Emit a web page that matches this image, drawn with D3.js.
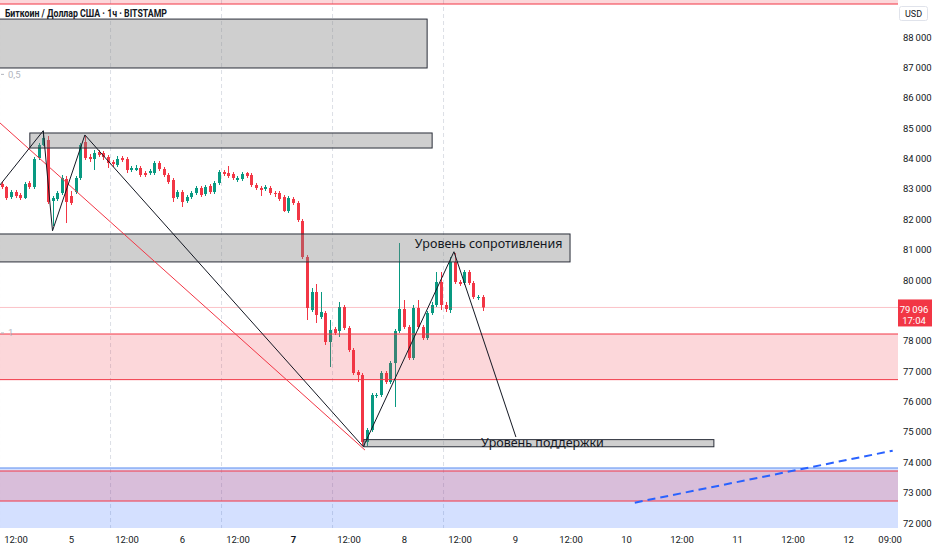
<!DOCTYPE html>
<html lang="ru">
<head>
<meta charset="UTF-8">
<title>BTC/USD 1h</title>
<script src="https://cdn.jsdelivr.net/npm/d3@7"></script>
<style>
  body { margin: 0; background: #fff; }
  svg { display: block; }
  text { font-family: "Liberation Sans Narrow", "Arial Narrow", Roboto, sans-serif; fill: #131722; }
  .axis text { font-size: 9.5px; }
  .axis path, .axis line { display: none; }
  .note { font-family: "Noto Sans", sans-serif; font-size: 12.5px; }
</style>
</head>
<body>
<svg id="chart" width="932" height="550"></svg>
<script>
// hourly candles [open, high, low, close], first bar 4 Apr 09:00 UTC
const barStart = Date.UTC(2025, 3, 4, 9);
const bars = [
  [83160, 83226, 82996, 83062], [83062, 83095, 82634, 82699], [82732, 82963, 82667, 82897],
  [82897, 82963, 82699, 82765], [82798, 82864, 82634, 82699], [82699, 83226, 82667, 83160],
  [83193, 83259, 82996, 83062], [83062, 84049, 82996, 83983], [84016, 84510, 83950, 84444],
  [84444, 84905, 84411, 84675], [84609, 84741, 82502, 82568], [82601, 82765, 81778, 82699],
  [82667, 82930, 82601, 82864], [82864, 83457, 82798, 83358], [83325, 83424, 81876, 82568],
  [82765, 82930, 82469, 82535], [82897, 83424, 82831, 83358], [83358, 84510, 83292, 84444],
  [84543, 84741, 83950, 84016], [84049, 84148, 83885, 83983], [83983, 84280, 83621, 84181],
  [84214, 84280, 84049, 84115], [84181, 84247, 83950, 84049], [84049, 84115, 83687, 83852],
  [83885, 83950, 83720, 83819], [83786, 84082, 83720, 83983], [84016, 84082, 83885, 83950],
  [83983, 84049, 83522, 83621], [83621, 83753, 83555, 83687], [83621, 83786, 83588, 83687],
  [83687, 83753, 83391, 83457], [83522, 83588, 83391, 83457], [83522, 83654, 83457, 83588],
  [83522, 83918, 83457, 83852], [83852, 83918, 83588, 83654], [83654, 83720, 83391, 83457],
  [83457, 83522, 83160, 83226], [83292, 83358, 82568, 82699], [82732, 82963, 82667, 82897],
  [82897, 82963, 82403, 82568], [82601, 82798, 82535, 82732], [82732, 82930, 82667, 82864],
  [82864, 83095, 82798, 83029], [83029, 83095, 82732, 82798], [82831, 83127, 82765, 83062],
  [83095, 83160, 82831, 82897], [82897, 83259, 82831, 83193], [83193, 83621, 83127, 83555],
  [83555, 83621, 83424, 83490], [83522, 83753, 83358, 83424], [83490, 83555, 83292, 83358],
  [83292, 83424, 83226, 83358], [83325, 83555, 83259, 83490], [83522, 83555, 83358, 83424],
  [83457, 83522, 83062, 83127], [83127, 83193, 82963, 83029], [83029, 83095, 82765, 82963],
  [82996, 83127, 82930, 83062], [83029, 83095, 82798, 82864], [82864, 82930, 82732, 82831],
  [82864, 82930, 82601, 82667], [82732, 82798, 82239, 82271], [82271, 82765, 82206, 82699],
  [82667, 82732, 82469, 82535], [82535, 82601, 81909, 81975], [81942, 82008, 80691, 80757],
  [80757, 80823, 78683, 79078], [79012, 79736, 78946, 79605], [79605, 79868, 78584, 78848],
  [78782, 79605, 78716, 78946], [78913, 78979, 77860, 77959], [77959, 78683, 77136, 78354],
  [78387, 78452, 78189, 78255], [78321, 79276, 78123, 79111], [79111, 79177, 78354, 78420],
  [78420, 78485, 77629, 77695], [77695, 77761, 76872, 76938], [76971, 77037, 76642, 76872],
  [76872, 76938, 74535, 74666], [74666, 75127, 74535, 75061], [75061, 76280, 74996, 76214],
  [76181, 76280, 76115, 76214], [76214, 77004, 76148, 76938], [76938, 77004, 76576, 76642],
  [76642, 77333, 76576, 77267], [77267, 78387, 75819, 78321], [78321, 81218, 78255, 79045],
  [79045, 79341, 78387, 78452], [78452, 78518, 77366, 77432], [77432, 79177, 77366, 79078],
  [79078, 79341, 78387, 78452], [78452, 78518, 78025, 78090], [78090, 78979, 78025, 78913],
  [78913, 79276, 78848, 79177], [79177, 80263, 79111, 79934], [79934, 80263, 79012, 79177],
  [79177, 79276, 78946, 79045], [79012, 80757, 78913, 80592], [80592, 80889, 79868, 79934],
  [79934, 80000, 79802, 79868], [79901, 80329, 79835, 80263], [80263, 80329, 79835, 79901],
  [79901, 79967, 79374, 79440], [79407, 79506, 79341, 79440], [79440, 79506, 78979, 79096]
];

// 79 000 sits under the live price tag, so it is not printed
const priceTicks = [72000, 73000, 74000, 75000, 76000, 77000, 78000,
                    80000, 81000, 82000, 83000, 84000, 85000, 86000, 87000, 88000];
const extraTimeTick = "2025-04-12T09:00Z";
const gridTimes = ["2025-04-04T08:33Z", "2025-04-05T08:33Z", "2025-04-06T08:33Z",
                   "2025-04-07T08:33Z", "2025-04-08T08:33Z"];

// drawn zones: [from, to, upper price, lower price]
const grayBoxes = [
  ["2025-04-04T00:00Z", "2025-04-08T05:00Z", 88590, 86980],
  ["2025-04-04T15:06Z", "2025-04-08T06:05Z", 84840, 84345],
  ["2025-04-04T00:00Z", "2025-04-09T11:54Z", 81515, 80595],
  ["2025-04-07T15:20Z", "2025-04-10T19:00Z", 74745, 74510]
];
const redZones = [
  ["2025-04-01T00:00Z", "2025-04-20T00:00Z", 92000, 89086],
  ["2025-04-01T00:00Z", "2025-04-20T00:00Z", 78222, 76720],
  ["2025-04-01T00:00Z", "2025-04-20T00:00Z", 73712, 72724]
];
const blueZone = ["2025-04-01T00:00Z", "2025-04-20T00:00Z", 73811, 70000];

const zigzag = [
  ["2025-04-04T08:39Z", 83130], ["2025-04-04T18:00Z", 84915], ["2025-04-04T20:00Z", 81620],
  ["2025-04-05T03:00Z", 84775], ["2025-04-07T15:12Z", 74510], ["2025-04-08T10:48Z", 80930],
  ["2025-04-09T00:12Z", 74830]
];
const redTrend = [["2025-04-04T08:39Z", 85170], ["2025-04-07T15:34Z", 74400]];
const blueTrend = [["2025-04-10T01:54Z", 72670], ["2025-04-12T09:40Z", 74380]];

const notes = [
  { text: "Уровень сопротивления", time: "2025-04-08T02:20Z", price: 81200 },
  { text: "Уровень поддержки", time: "2025-04-08T16:40Z", price: 74640 }
];
const fibLabels = [{ text: "0,5", price: 86770 }, { text: "1", price: 78255 }];
const title = "Биткоин / Доллар США · 1ч · BITSTAMP";
const countdown = "17:04";

const W = 932, H = 550, plotW = 898, plotH = 528;
const green = "#089981", red = "#f23645";

const svg = d3.select("#chart");
const x = d3.scaleUtc()
  .domain([new Date(Date.UTC(2025, 3, 5)), new Date(Date.UTC(2025, 3, 12))])
  .range([71, 848]);
const y = d3.scaleLinear().domain([72000, 88000]).range([523, 37]);
const T = s => new Date(s);
const ru = d3.formatLocale({ decimal: ",", thousands: "\u2009", grouping: [3], currency: ["", ""] });
const priceFmt = ru.format(",.0f");

svg.append("defs").append("clipPath").attr("id", "plot")
  .append("rect").attr("width", plotW).attr("height", plotH);
const plot = svg.append("g").attr("clip-path", "url(#plot)");

// vertical grid
plot.selectAll(".vgrid").data(gridTimes).join("line")
  .attr("x1", d => x(T(d))).attr("x2", d => x(T(d)))
  .attr("y1", 0).attr("y2", plotH)
  .attr("stroke", "#dcdfe6").attr("stroke-dasharray", "4,3");

// candles
const candles = bars.map((b, i) => ({ t: new Date(barStart + i * 3600e3), o: b[0], h: b[1], l: b[2], c: b[3] }));
const cg = plot.selectAll(".candle").data(candles).join("g")
  .attr("fill", d => d.c >= d.o ? green : red)
  .attr("stroke", d => d.c >= d.o ? green : red);
cg.append("line")
  .attr("x1", d => Math.round(x(d.t)) + 0.5).attr("x2", d => Math.round(x(d.t)) + 0.5)
  .attr("y1", d => y(d.h)).attr("y2", d => y(d.l)).attr("stroke-width", 1);
cg.append("rect")
  .attr("x", d => Math.round(x(d.t)) - 1).attr("width", 3)
  .attr("y", d => y(Math.max(d.o, d.c)))
  .attr("height", d => Math.max(1, Math.abs(y(d.o) - y(d.c))))
  .attr("stroke", "none");

// current price line
const last = candles[candles.length - 1].c;
plot.append("line").attr("x1", 0).attr("x2", plotW)
  .attr("y1", y(last)).attr("y2", y(last))
  .attr("stroke", red).attr("stroke-opacity", 0.3);

// zones
const zone = (d, fill, stroke) => plot.append("rect")
  .attr("x", x(T(d[0]))).attr("width", x(T(d[1])) - x(T(d[0])))
  .attr("y", y(d[2])).attr("height", y(d[3]) - y(d[2]))
  .attr("fill", fill).attr("stroke", stroke).attr("stroke-width", 1);
zone(blueZone, "rgba(41,98,255,0.2)", "#5b8def");
redZones.forEach(d => zone(d, "rgba(242,54,69,0.2)", red));
grayBoxes.forEach(d => zone(d, "rgba(128,128,128,0.38)", "#2a2e39"));

// trend lines
const line = d3.line().x(d => x(T(d[0]))).y(d => y(d[1]));
plot.append("path").datum(redTrend).attr("d", line)
  .attr("fill", "none").attr("stroke", red).attr("stroke-width", 1);
plot.append("path").datum(zigzag).attr("d", line)
  .attr("fill", "none").attr("stroke", "#131722").attr("stroke-width", 1);
plot.append("path").datum(blueTrend).attr("d", line)
  .attr("fill", "none").attr("stroke", "#2962ff").attr("stroke-width", 2)
  .attr("stroke-dasharray", "8,5");

// notes
plot.selectAll(".note").data(notes).join("text").attr("class", "note")
  .attr("x", d => x(T(d.time))).attr("y", d => y(d.price))
  .attr("dy", "0.35em").text(d => d.text);

// fib labels
const fl = plot.selectAll(".fib").data(fibLabels).join("g")
  .attr("transform", d => `translate(0,${y(d.price)})`);
fl.append("line").attr("x1", 1).attr("x2", 4).attr("stroke", "#b2b5be");
fl.append("text").attr("x", 8).attr("dy", "0.35em")
  .style("font-size", "9.5px").style("fill", "#b2b5be").text(d => d.text);

// title
svg.append("text").attr("x", 5).attr("y", 17)
  .attr("textLength", 162).attr("lengthAdjust", "spacingAndGlyphs")
  .style("font-size", "10.5px").style("font-weight", "bold").text(title);

// price axis
svg.append("g").attr("class", "axis").attr("transform", `translate(${plotW},0)`)
  .call(d3.axisRight(y).tickValues(priceTicks).tickSize(0).tickPadding(5).tickFormat(priceFmt));

svg.append("rect").attr("x", 899.5).attr("y", 6.5).attr("width", 28).attr("height", 14)
  .attr("rx", 2).attr("fill", "#fff").attr("stroke", "#e0e3eb");
svg.append("text").attr("x", 913.5).attr("y", 13.5).attr("dy", "0.35em")
  .attr("text-anchor", "middle").style("font-size", "9px").text("USD");

const tag = svg.append("g").attr("transform", `translate(${plotW},${y(last)})`);
tag.append("rect").attr("x", 0).attr("y", -8).attr("width", W - plotW).attr("height", 27).attr("fill", red);
tag.append("text").attr("x", 16).attr("y", 2).attr("dy", "0.35em").attr("text-anchor", "middle")
  .style("font-size", "9.5px").style("fill", "#fff").text(priceFmt(last));
tag.append("text").attr("x", 16).attr("y", 13).attr("dy", "0.35em").attr("text-anchor", "middle")
  .style("font-size", "9.5px").style("fill", "#fff").text(countdown);

// time axis
const timeTicks = d3.utcHour.every(12).range(new Date(Date.UTC(2025, 3, 4, 12)), new Date(Date.UTC(2025, 3, 12, 1)))
  .concat([T(extraTimeTick)]);
const timeFmt = d => d.getUTCHours() === 0 && d.getUTCMinutes() === 0 ? String(d.getUTCDate()) : d3.utcFormat("%H:%M")(d);
const xa = svg.append("g").attr("class", "axis").attr("transform", `translate(0,${plotH})`)
  .call(d3.axisBottom(x).tickValues(timeTicks).tickSize(0).tickPadding(8).tickFormat(timeFmt));
xa.selectAll("text").filter(d => d.getUTCDate() === 7 && d.getUTCHours() === 0).style("font-weight", "bold");
</script>
</body>
</html>
